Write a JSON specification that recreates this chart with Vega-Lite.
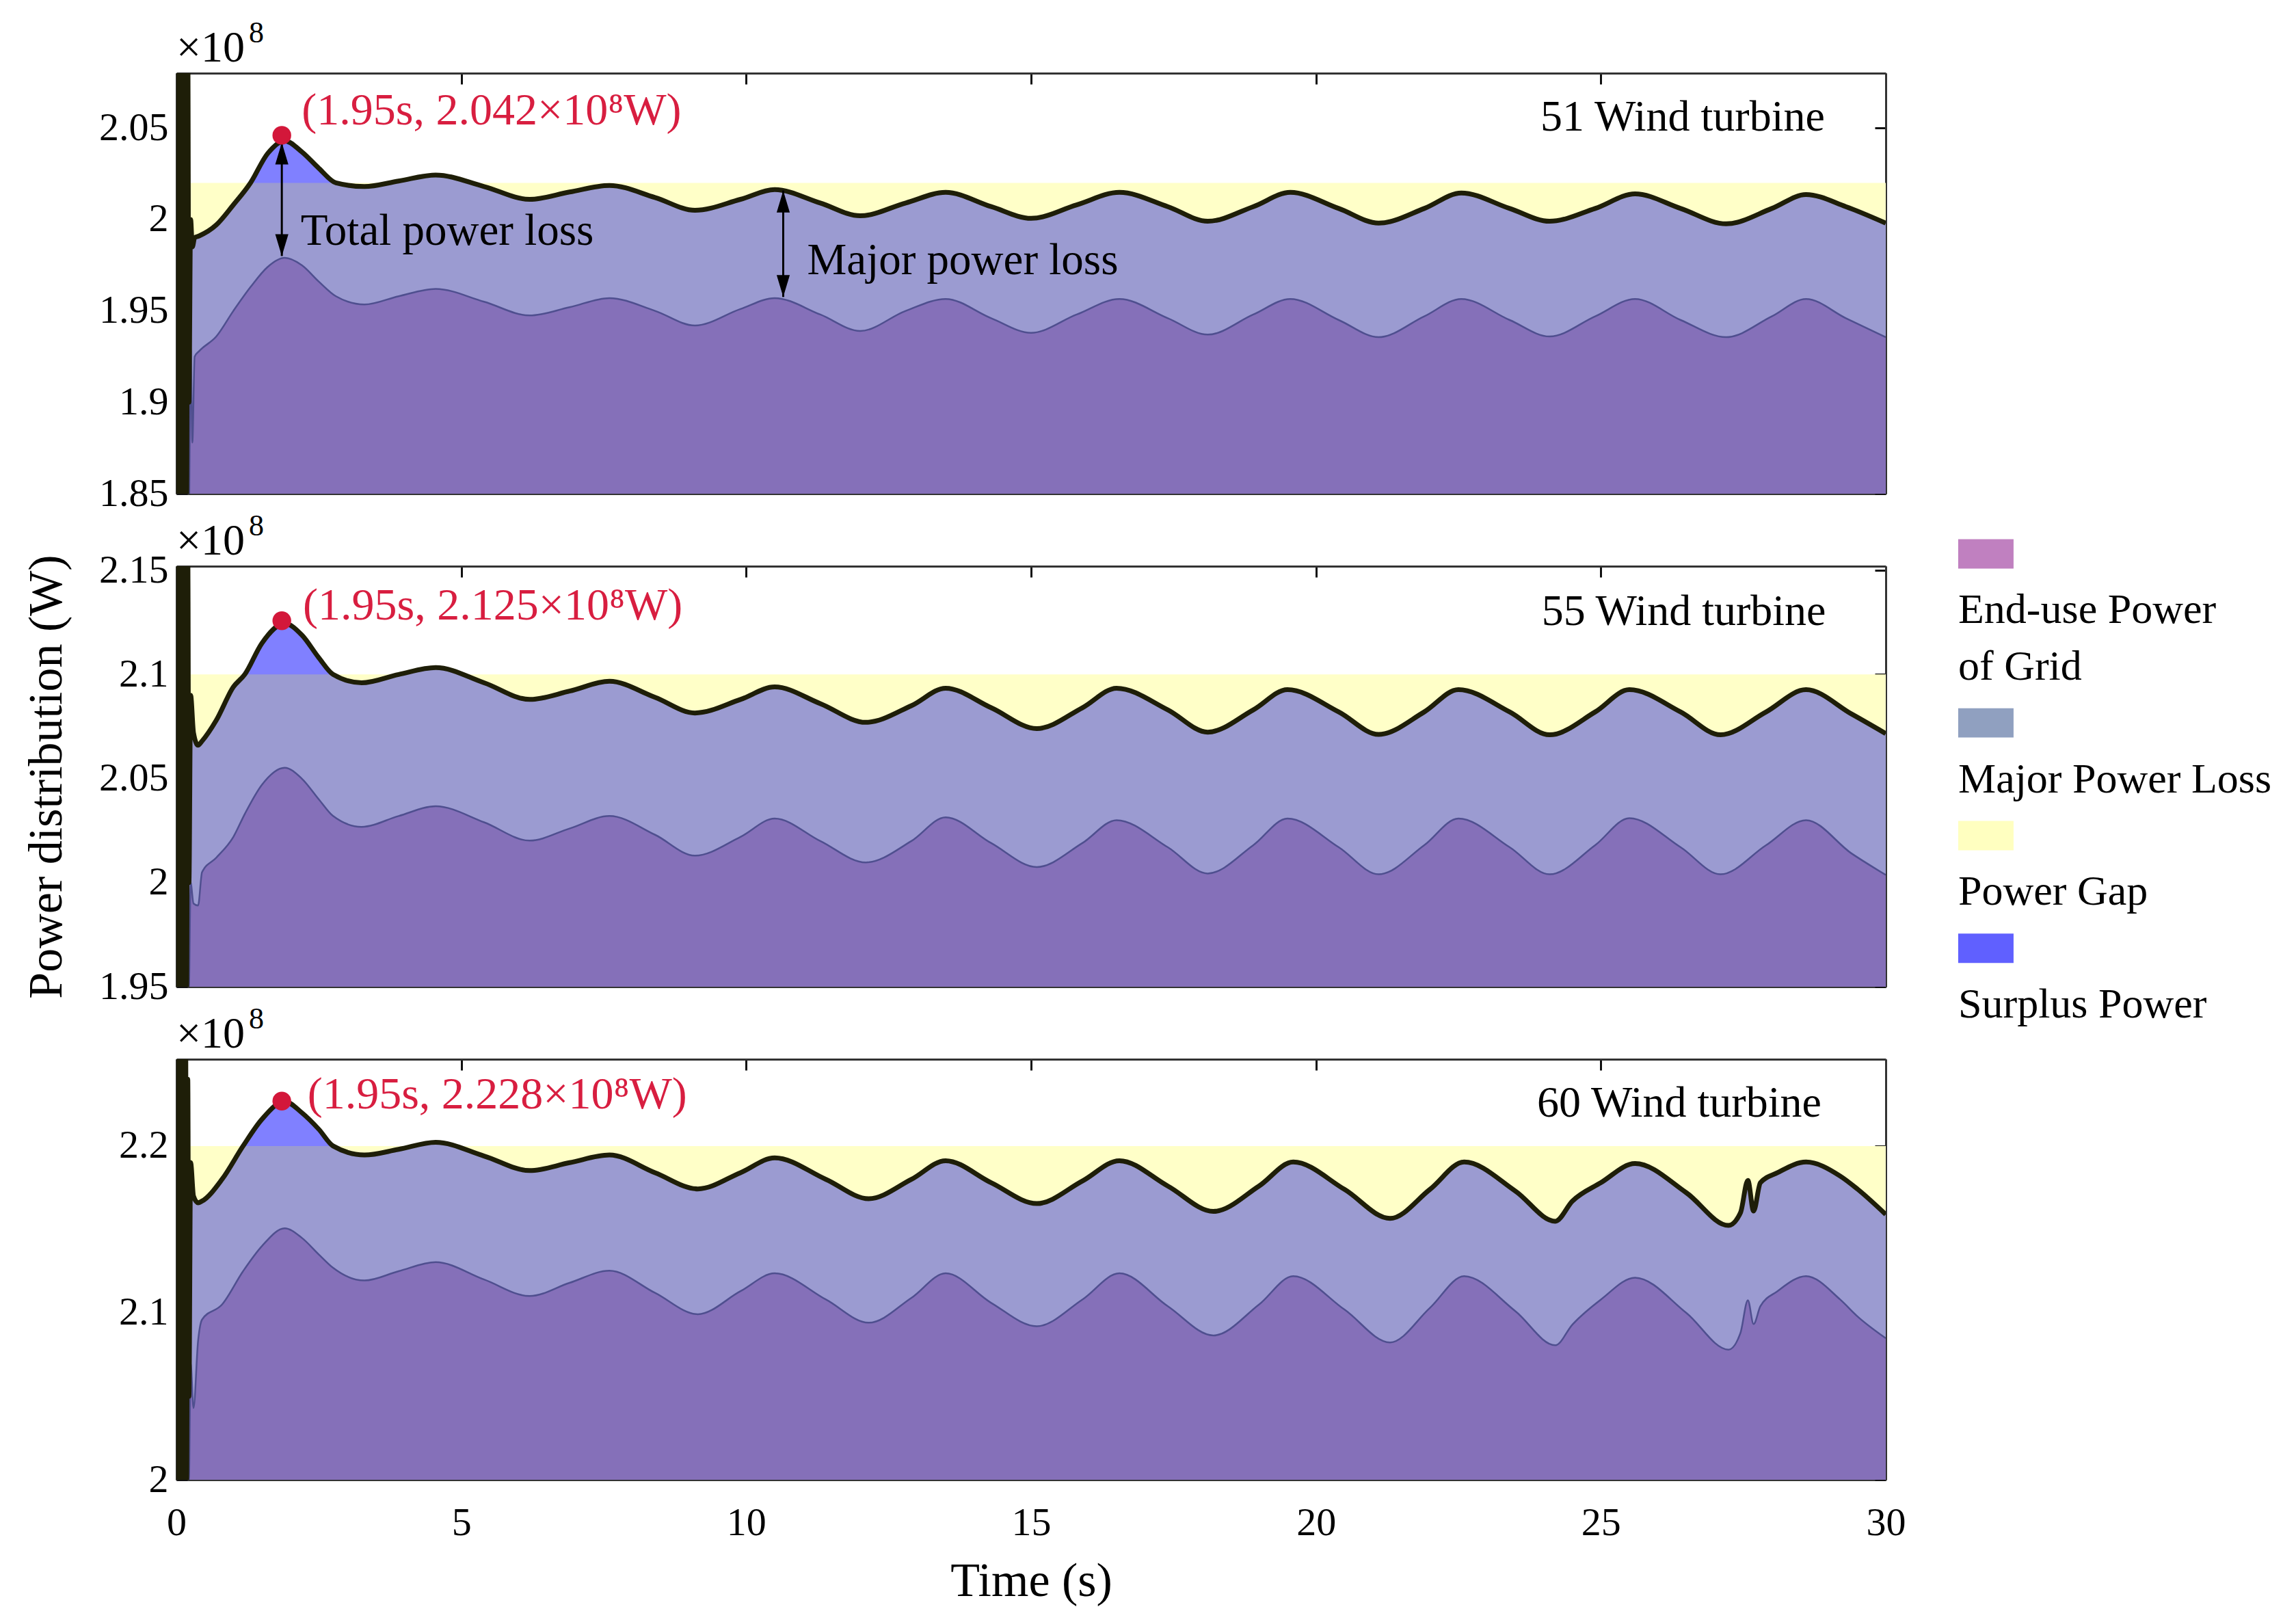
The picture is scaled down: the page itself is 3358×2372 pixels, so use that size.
{
  "$schema": "https://vega.github.io/schema/vega-lite/v6.json",
  "padding": {"left": 33, "top": 27, "right": 5, "bottom": 5},
  "background": "#ffffff",
  "config": {
    "font": "Liberation Serif",
    "view": {"stroke": null},
    "axis": {
      "domainColor": "#333", "domainWidth": 3, "tickColor": "#111", "tickWidth": 3, "tickSize": -16,
      "labelFont": "Liberation Serif", "labelFontSize": 58, "labelColor": "#000", "labelPadding": 28, "labelFlush": false,
      "titleFont": "Liberation Serif", "titleFontSize": 70, "titleFontWeight": "normal", "titleColor": "#000",
      "grid": false, "zindex": 1
    }
  },
  "datasets": {
    "p1": [
      {"t":0,"tot":2.3,"end":2.3},{"t":0.02,"tot":1.8,"end":1.8},{"t":0.04,"tot":2.3,"end":2.3},{"t":0.06,"tot":1.8,"end":1.8},
      {"t":0.08,"tot":2.3,"end":2.25},{"t":0.1,"tot":1.8,"end":1.8},{"t":0.12,"tot":2.25,"end":2.15},{"t":0.14,"tot":1.82,"end":1.8},
      {"t":0.16,"tot":2.2,"end":2.05},{"t":0.18,"tot":1.85,"end":1.8},{"t":0.2,"tot":2.1,"end":1.99},{"t":0.22,"tot":1.9,"end":1.84},
      {"t":0.25,"tot":2.0,"end":1.93},{"t":0.28,"tot":1.985,"end":1.878},{"t":0.32,"tot":1.99,"end":1.925},
      {"t":0.4,"tot":1.991,"end":1.928},{"t":0.7,"tot":1.997,"end":1.936},{"t":1.0,"tot":2.008,"end":1.95},
      {"t":1.3,"tot":2.02,"end":1.963},{"t":1.6,"tot":2.036,"end":1.974},{"t":1.9,"tot":2.043,"end":1.979},
      {"t":2.2,"tot":2.037,"end":1.975},{"t":2.5,"tot":2.028,"end":1.966},{"t":2.8,"tot":2.02,"end":1.958},
      {"t":3.3,"tot":2.018,"end":1.9535},{"t":3.9,"tot":2.021,"end":1.958},{"t":4.55,"tot":2.0243,"end":1.962},
      {"t":5.4,"tot":2.018,"end":1.955},{"t":6.2,"tot":2.011,"end":1.9475},{"t":6.9,"tot":2.015,"end":1.952},
      {"t":7.6,"tot":2.0186,"end":1.957},{"t":8.4,"tot":2.012,"end":1.95},{"t":9.1,"tot":2.005,"end":1.942},
      {"t":9.9,"tot":2.011,"end":1.951},{"t":10.5,"tot":2.0163,"end":1.957},{"t":11.3,"tot":2.009,"end":1.948},
      {"t":12.0,"tot":2.002,"end":1.939},{"t":12.8,"tot":2.009,"end":1.95},{"t":13.5,"tot":2.0148,"end":1.9565},
      {"t":14.3,"tot":2.007,"end":1.946},{"t":15.0,"tot":2.0006,"end":1.938},{"t":15.8,"tot":2.008,"end":1.948},
      {"t":16.55,"tot":2.0148,"end":1.9565},{"t":17.4,"tot":2.007,"end":1.946},{"t":18.1,"tot":1.999,"end":1.937},
      {"t":18.9,"tot":2.007,"end":1.948},{"t":19.55,"tot":2.0148,"end":1.9565},{"t":20.4,"tot":2.006,"end":1.945},
      {"t":21.1,"tot":1.998,"end":1.9356},{"t":21.9,"tot":2.006,"end":1.947},{"t":22.55,"tot":2.0145,"end":1.9565},
      {"t":23.4,"tot":2.006,"end":1.945},{"t":24.1,"tot":1.999,"end":1.936},{"t":24.9,"tot":2.006,"end":1.947},
      {"t":25.6,"tot":2.014,"end":1.9565},{"t":26.4,"tot":2.006,"end":1.945},{"t":27.2,"tot":1.9976,"end":1.9356},
      {"t":28.0,"tot":2.006,"end":1.947},{"t":28.6,"tot":2.0136,"end":1.9565},{"t":29.3,"tot":2.007,"end":1.946},
      {"t":30.0,"tot":1.998,"end":1.9356}
    ],
    "p2": [
      {"t":0,"tot":2.3,"end":2.3},{"t":0.02,"tot":1.9,"end":1.9},{"t":0.04,"tot":2.3,"end":2.3},{"t":0.06,"tot":1.9,"end":1.9},
      {"t":0.08,"tot":2.3,"end":2.25},{"t":0.1,"tot":1.9,"end":1.9},{"t":0.12,"tot":2.28,"end":2.2},{"t":0.14,"tot":1.92,"end":1.9},
      {"t":0.16,"tot":2.25,"end":2.12},{"t":0.18,"tot":1.95,"end":1.92},{"t":0.2,"tot":2.16,"end":2.06},{"t":0.22,"tot":2.0,"end":1.95},
      {"t":0.25,"tot":2.09,"end":2.0},{"t":0.3,"tot":2.072,"end":1.99},{"t":0.38,"tot":2.066,"end":1.989},
      {"t":0.45,"tot":2.068,"end":2.005},{"t":0.7,"tot":2.078,"end":2.012},{"t":1.0,"tot":2.094,"end":2.022},
      {"t":1.2,"tot":2.1,"end":2.033},{"t":1.5,"tot":2.115,"end":2.047},{"t":1.9,"tot":2.1245,"end":2.0552},
      {"t":2.2,"tot":2.119,"end":2.05},{"t":2.5,"tot":2.108,"end":2.04},{"t":2.75,"tot":2.1,"end":2.032},
      {"t":3.25,"tot":2.096,"end":2.0268},{"t":3.9,"tot":2.1,"end":2.032},{"t":4.55,"tot":2.1033,"end":2.0367},
      {"t":5.4,"tot":2.096,"end":2.029},{"t":6.2,"tot":2.088,"end":2.0202},{"t":6.9,"tot":2.092,"end":2.026},
      {"t":7.6,"tot":2.0967,"end":2.032},{"t":8.4,"tot":2.089,"end":2.023},{"t":9.1,"tot":2.0815,"end":2.013},
      {"t":9.9,"tot":2.088,"end":2.022},{"t":10.5,"tot":2.094,"end":2.0308},{"t":11.3,"tot":2.086,"end":2.02},
      {"t":12.1,"tot":2.077,"end":2.0097},{"t":12.9,"tot":2.085,"end":2.02},{"t":13.5,"tot":2.0934,"end":2.0314},
      {"t":14.3,"tot":2.084,"end":2.019},{"t":15.1,"tot":2.074,"end":2.0075},{"t":15.9,"tot":2.084,"end":2.019},
      {"t":16.5,"tot":2.0934,"end":2.03},{"t":17.4,"tot":2.083,"end":2.017},{"t":18.1,"tot":2.0723,"end":2.0044},
      {"t":18.9,"tot":2.083,"end":2.018},{"t":19.5,"tot":2.0927,"end":2.0308},{"t":20.4,"tot":2.082,"end":2.017},
      {"t":21.1,"tot":2.0712,"end":2.004},{"t":21.9,"tot":2.082,"end":2.018},{"t":22.5,"tot":2.0927,"end":2.0308},
      {"t":23.4,"tot":2.082,"end":2.017},{"t":24.1,"tot":2.071,"end":2.004},{"t":24.9,"tot":2.082,"end":2.018},
      {"t":25.5,"tot":2.0927,"end":2.031},{"t":26.4,"tot":2.082,"end":2.017},{"t":27.1,"tot":2.071,"end":2.004},
      {"t":27.9,"tot":2.082,"end":2.018},{"t":28.6,"tot":2.0927,"end":2.03},{"t":29.4,"tot":2.081,"end":2.014},
      {"t":30.0,"tot":2.0716,"end":2.0037}
    ],
    "p3": [
      {"t":0,"tot":2.4,"end":2.4},{"t":0.02,"tot":1.95,"end":1.95},{"t":0.04,"tot":2.4,"end":2.4},{"t":0.06,"tot":1.95,"end":1.95},
      {"t":0.08,"tot":2.4,"end":2.3},{"t":0.1,"tot":1.95,"end":1.95},{"t":0.12,"tot":2.35,"end":2.25},{"t":0.14,"tot":1.97,"end":1.95},
      {"t":0.16,"tot":2.3,"end":2.18},{"t":0.18,"tot":2.0,"end":1.97},{"t":0.2,"tot":2.24,"end":2.1},{"t":0.22,"tot":2.05,"end":2.0},
      {"t":0.25,"tot":2.19,"end":2.07},{"t":0.3,"tot":2.17,"end":2.043},{"t":0.38,"tot":2.166,"end":2.083},
      {"t":0.45,"tot":2.167,"end":2.096},{"t":0.8,"tot":2.18,"end":2.105},{"t":1.17,"tot":2.2,"end":2.125},
      {"t":1.5,"tot":2.216,"end":2.14},{"t":1.9,"tot":2.2267,"end":2.1507},{"t":2.2,"tot":2.22,"end":2.145},
      {"t":2.5,"tot":2.21,"end":2.135},{"t":2.75,"tot":2.2,"end":2.127},{"t":3.3,"tot":2.1946,"end":2.1194},
      {"t":3.9,"tot":2.198,"end":2.125},{"t":4.55,"tot":2.2022,"end":2.1304},{"t":5.4,"tot":2.194,"end":2.12},
      {"t":6.2,"tot":2.1853,"end":2.1101},{"t":6.9,"tot":2.19,"end":2.118},{"t":7.6,"tot":2.1946,"end":2.1253},
      {"t":8.4,"tot":2.184,"end":2.112},{"t":9.15,"tot":2.1743,"end":2.0992},{"t":9.9,"tot":2.184,"end":2.113},
      {"t":10.5,"tot":2.1929,"end":2.1237},{"t":11.4,"tot":2.18,"end":2.108},{"t":12.15,"tot":2.1684,"end":2.0941},
      {"t":12.9,"tot":2.18,"end":2.109},{"t":13.5,"tot":2.1912,"end":2.1237},{"t":14.3,"tot":2.178,"end":2.106},
      {"t":15.1,"tot":2.1655,"end":2.092},{"t":15.9,"tot":2.179,"end":2.108},{"t":16.55,"tot":2.1912,"end":2.1237},
      {"t":17.4,"tot":2.176,"end":2.104},{"t":18.2,"tot":2.1608,"end":2.0865},{"t":19.0,"tot":2.176,"end":2.105},
      {"t":19.6,"tot":2.1904,"end":2.122},{"t":20.5,"tot":2.174,"end":2.102},{"t":21.3,"tot":2.1566,"end":2.0823},
      {"t":22.0,"tot":2.174,"end":2.103},{"t":22.6,"tot":2.1904,"end":2.122},{"t":23.5,"tot":2.173,"end":2.101},
      {"t":24.2,"tot":2.1549,"end":2.0806},{"t":24.5,"tot":2.167,"end":2.093},{"t":25.0,"tot":2.178,"end":2.108},
      {"t":25.6,"tot":2.1895,"end":2.1211},{"t":26.5,"tot":2.172,"end":2.1},{"t":27.24,"tot":2.1524,"end":2.078},
      {"t":27.45,"tot":2.16,"end":2.088},{"t":27.58,"tot":2.1794,"end":2.1076},{"t":27.68,"tot":2.161,"end":2.0933},
      {"t":27.8,"tot":2.178,"end":2.104},{"t":28.1,"tot":2.184,"end":2.113},{"t":28.6,"tot":2.1904,"end":2.122},
      {"t":29.2,"tot":2.182,"end":2.108},{"t":29.5,"tot":2.1743,"end":2.098},{"t":30.0,"tot":2.159,"end":2.0848}
    ],
    "ann": [
      {"p":1,"k":"dot","t":1.85,"v":2.046},
      {"p":1,"k":"red","t":2.2,"v":2.0595,"text":"(1.95s, 2.042×10⁸W)"},
      {"p":1,"k":"turb","t":28.93,"v":2.0558,"text":"51 Wind turbine"},
      {"p":1,"k":"note","t":2.18,"v":1.9936,"text":"Total power loss"},
      {"p":1,"k":"note","t":11.07,"v":1.9775,"text":"Major power loss"},
      {"p":1,"k":"arrow","t":1.85,"top":2.042,"bot":1.98},
      {"p":1,"k":"arrow","t":10.65,"top":2.0158,"bot":1.9576},
      {"p":2,"k":"dot","t":1.85,"v":2.1258},
      {"p":2,"k":"red","t":2.22,"v":2.133,"text":"(1.95s, 2.125×10⁸W)"},
      {"p":2,"k":"turb","t":28.95,"v":2.13,"text":"55 Wind turbine"},
      {"p":3,"k":"dot","t":1.85,"v":2.2269},
      {"p":3,"k":"red","t":2.3,"v":2.2306,"text":"(1.95s, 2.228×10⁸W)"},
      {"p":3,"k":"turb","t":28.87,"v":2.2252,"text":"60 Wind turbine"}
    ],
    "legend": [
      {"slot":0,"k":"sw","item":"End-use Power of Grid"},
      {"slot":1,"k":"lab","text":"End-use Power"},
      {"slot":2,"k":"lab","text":"of Grid"},
      {"slot":3,"k":"sw","item":"Major Power Loss"},
      {"slot":4,"k":"lab","text":"Major Power Loss"},
      {"slot":5,"k":"sw","item":"Power Gap"},
      {"slot":6,"k":"lab","text":"Power Gap"},
      {"slot":7,"k":"sw","item":"Surplus Power"},
      {"slot":8,"k":"lab","text":"Surplus Power"}
    ]
  },
  "spacing": 76,
  "hconcat": [
    {
      "bounds": "flush",
      "spacing": 106,
      "vconcat": [
        {
          "width": 2500, "height": 615,
          "data": {"name": "p1"},
          "layer": [
            {"data": {"values": [{}]}, "mark": {"type": "rect", "color": "#ffffc8"},
             "encoding": {
               "x": {"datum": 0, "type": "quantitative", "scale": {"domain": [0, 30]}, "axis": {"orient": "bottom", "values": [0,5,10,15,20,25,30], "labels": false, "title": null}},
               "x2": {"datum": 30},
               "y": {"datum": 1.85, "type": "quantitative", "scale": {"domain": [1.85, 2.08]}, "axis": {"orient": "left", "values": [1.85,1.9,1.95,2,2.05], "format": "~g", "title": null}},
               "y2": {"datum": 2.02}}},
            {"mark": {"type": "area", "color": "#9b9bd1", "opacity": 1, "interpolate": "monotone", "clip": true},
             "encoding": {"x": {"field": "t", "type": "quantitative", "scale": {"domain": [0, 30]}, "axis": null},
               "y": {"field": "tot", "type": "quantitative", "scale": {"domain": [1.85, 2.08]}, "axis": null}, "y2": {"datum": 1.85}}},
            {"mark": {"type": "area", "color": "#8570b9", "opacity": 1, "interpolate": "monotone", "clip": true},
             "encoding": {"x": {"field": "t", "type": "quantitative", "scale": {"domain": [0, 30]}, "axis": null},
               "y": {"field": "end", "type": "quantitative", "scale": {"domain": [1.85, 2.08]}, "axis": null}, "y2": {"datum": 1.85}}},
            {"transform": [{"filter": "datum.t >= 1.3 && datum.t <= 2.8"}],
             "mark": {"type": "area", "color": "#8080ff", "opacity": 1, "interpolate": "monotone", "clip": true},
             "encoding": {"x": {"field": "t", "type": "quantitative", "scale": {"domain": [0, 30]}, "axis": null},
               "y": {"field": "tot", "type": "quantitative", "scale": {"domain": [1.85, 2.08]}, "axis": null}, "y2": {"datum": 2.02}}},
            {"mark": {"type": "line", "color": "#4f4f8f", "strokeWidth": 2.5, "interpolate": "monotone", "clip": true},
             "encoding": {"x": {"field": "t", "type": "quantitative", "scale": {"domain": [0, 30]}, "axis": null},
               "y": {"field": "end", "type": "quantitative", "scale": {"domain": [1.85, 2.08]}, "axis": null}}},
            {"mark": {"type": "line", "color": "#1e1e08", "strokeWidth": 7, "interpolate": "monotone", "clip": true},
             "encoding": {"x": {"field": "t", "type": "quantitative", "scale": {"domain": [0, 30]}, "axis": null},
               "y": {"field": "tot", "type": "quantitative", "scale": {"domain": [1.85, 2.08]}, "axis": null}}},
            {"data": {"name": "ann"}, "transform": [{"filter": "datum.p == 1 && datum.k == 'arrow'"}],
             "mark": {"type": "rule", "color": "#000", "strokeWidth": 3},
             "encoding": {"x": {"field": "t", "type": "quantitative", "scale": {"domain": [0, 30]}, "axis": null},
               "y": {"field": "top", "type": "quantitative", "scale": {"domain": [1.85, 2.08]}, "axis": null}, "y2": {"field": "bot"}}},
            {"data": {"name": "ann"}, "transform": [{"filter": "datum.p == 1 && datum.k == 'arrow'"}],
             "mark": {"type": "point", "shape": "M0,0L-0.6,2L0.6,2Z", "filled": true, "color": "#000", "opacity": 1, "size": 1024},
             "encoding": {"x": {"field": "t", "type": "quantitative", "scale": {"domain": [0, 30]}, "axis": null},
               "y": {"field": "top", "type": "quantitative", "scale": {"domain": [1.85, 2.08]}, "axis": null}}},
            {"data": {"name": "ann"}, "transform": [{"filter": "datum.p == 1 && datum.k == 'arrow'"}],
             "mark": {"type": "point", "shape": "M0,0L-0.6,-2L0.6,-2Z", "filled": true, "color": "#000", "opacity": 1, "size": 1024},
             "encoding": {"x": {"field": "t", "type": "quantitative", "scale": {"domain": [0, 30]}, "axis": null},
               "y": {"field": "bot", "type": "quantitative", "scale": {"domain": [1.85, 2.08]}, "axis": null}}},
            {"data": {"name": "ann"}, "transform": [{"filter": "datum.p == 1 && datum.k == 'dot'"}],
             "mark": {"type": "circle", "color": "#d3173a", "opacity": 1, "size": 750},
             "encoding": {"x": {"field": "t", "type": "quantitative", "scale": {"domain": [0, 30]}, "axis": null},
               "y": {"field": "v", "type": "quantitative", "scale": {"domain": [1.85, 2.08]}, "axis": null}}},
            {"data": {"name": "ann"}, "transform": [{"filter": "datum.p == 1 && datum.k == 'red'"}],
             "mark": {"type": "text", "align": "left", "baseline": "middle", "color": "#d81e40", "fontSize": 66, "font": "Liberation Serif"},
             "encoding": {"x": {"field": "t", "type": "quantitative", "scale": {"domain": [0, 30]}, "axis": null},
               "y": {"field": "v", "type": "quantitative", "scale": {"domain": [1.85, 2.08]}, "axis": null}, "text": {"field": "text"}}},
            {"data": {"name": "ann"}, "transform": [{"filter": "datum.p == 1 && datum.k == 'turb'"}],
             "mark": {"type": "text", "align": "right", "baseline": "middle", "color": "#000", "fontSize": 64, "font": "Liberation Serif"},
             "encoding": {"x": {"field": "t", "type": "quantitative", "scale": {"domain": [0, 30]}, "axis": null},
               "y": {"field": "v", "type": "quantitative", "scale": {"domain": [1.85, 2.08]}, "axis": null}, "text": {"field": "text"}}},
            {"data": {"name": "ann"}, "transform": [{"filter": "datum.p == 1 && datum.k == 'note'"}],
             "mark": {"type": "text", "align": "left", "baseline": "middle", "color": "#000", "fontSize": 65, "font": "Liberation Serif"},
             "encoding": {"x": {"field": "t", "type": "quantitative", "scale": {"domain": [0, 30]}, "axis": null},
               "y": {"field": "v", "type": "quantitative", "scale": {"domain": [1.85, 2.08]}, "axis": null}, "text": {"field": "text"}}},
            {"data": {"values": [{"s": "×10"}]}, "mark": {"type": "text", "align": "left", "baseline": "alphabetic", "dy": -17, "fontSize": 64, "font": "Liberation Serif", "color": "#000"},
             "encoding": {"x": {"datum": 0, "type": "quantitative", "scale": {"domain": [0, 30]}, "axis": null},
               "y": {"datum": 2.08, "type": "quantitative", "scale": {"domain": [1.85, 2.08]}, "axis": null}, "text": {"field": "s"}}},
            {"data": {"values": [{"s": "8"}]}, "mark": {"type": "text", "align": "left", "baseline": "alphabetic", "dx": 106, "dy": -45, "fontSize": 44, "font": "Liberation Serif", "color": "#000"},
             "encoding": {"x": {"datum": 0, "type": "quantitative", "scale": {"domain": [0, 30]}, "axis": null},
               "y": {"datum": 2.08, "type": "quantitative", "scale": {"domain": [1.85, 2.08]}, "axis": null}, "text": {"field": "s"}}},
            {"data": {"values": [{}]}, "mark": {"type": "point", "opacity": 0},
             "encoding": {
               "x": {"datum": 0, "type": "quantitative", "scale": {"domain": [0, 30]}, "axis": {"orient": "top", "values": [0,5,10,15,20,25,30], "labels": false, "title": null}},
               "y": {"datum": 1.85, "type": "quantitative", "scale": {"domain": [1.85, 2.08]}, "axis": {"orient": "right", "values": [1.85,1.9,1.95,2,2.05], "labels": false, "title": null}}}}
          ],
          "resolve": {"axis": {"x": "independent", "y": "independent"}}
        },
        {
          "width": 2500, "height": 615,
          "data": {"name": "p2"},
          "layer": [
            {"data": {"values": [{}]}, "mark": {"type": "rect", "color": "#ffffc8"},
             "encoding": {
               "x": {"datum": 0, "type": "quantitative", "scale": {"domain": [0, 30]}, "axis": {"orient": "bottom", "values": [0,5,10,15,20,25,30], "labels": false, "title": null}},
               "x2": {"datum": 30},
               "y": {"datum": 1.95, "type": "quantitative", "scale": {"domain": [1.95, 2.152]}, "axis": {"orient": "left", "values": [1.95,2,2.05,2.1,2.15], "format": "~g", "title": "Power distribution (W)", "titlePadding": 40}},
               "y2": {"datum": 2.1}}},
            {"mark": {"type": "area", "color": "#9b9bd1", "opacity": 1, "interpolate": "monotone", "clip": true},
             "encoding": {"x": {"field": "t", "type": "quantitative", "scale": {"domain": [0, 30]}, "axis": null},
               "y": {"field": "tot", "type": "quantitative", "scale": {"domain": [1.95, 2.152]}, "axis": null}, "y2": {"datum": 1.95}}},
            {"mark": {"type": "area", "color": "#8570b9", "opacity": 1, "interpolate": "monotone", "clip": true},
             "encoding": {"x": {"field": "t", "type": "quantitative", "scale": {"domain": [0, 30]}, "axis": null},
               "y": {"field": "end", "type": "quantitative", "scale": {"domain": [1.95, 2.152]}, "axis": null}, "y2": {"datum": 1.95}}},
            {"transform": [{"filter": "datum.t >= 1.2 && datum.t <= 2.75"}],
             "mark": {"type": "area", "color": "#8080ff", "opacity": 1, "interpolate": "monotone", "clip": true},
             "encoding": {"x": {"field": "t", "type": "quantitative", "scale": {"domain": [0, 30]}, "axis": null},
               "y": {"field": "tot", "type": "quantitative", "scale": {"domain": [1.95, 2.152]}, "axis": null}, "y2": {"datum": 2.1}}},
            {"mark": {"type": "line", "color": "#4f4f8f", "strokeWidth": 2.5, "interpolate": "monotone", "clip": true},
             "encoding": {"x": {"field": "t", "type": "quantitative", "scale": {"domain": [0, 30]}, "axis": null},
               "y": {"field": "end", "type": "quantitative", "scale": {"domain": [1.95, 2.152]}, "axis": null}}},
            {"mark": {"type": "line", "color": "#1e1e08", "strokeWidth": 7, "interpolate": "monotone", "clip": true},
             "encoding": {"x": {"field": "t", "type": "quantitative", "scale": {"domain": [0, 30]}, "axis": null},
               "y": {"field": "tot", "type": "quantitative", "scale": {"domain": [1.95, 2.152]}, "axis": null}}},
            {"data": {"name": "ann"}, "transform": [{"filter": "datum.p == 2 && datum.k == 'dot'"}],
             "mark": {"type": "circle", "color": "#d3173a", "opacity": 1, "size": 750},
             "encoding": {"x": {"field": "t", "type": "quantitative", "scale": {"domain": [0, 30]}, "axis": null},
               "y": {"field": "v", "type": "quantitative", "scale": {"domain": [1.95, 2.152]}, "axis": null}}},
            {"data": {"name": "ann"}, "transform": [{"filter": "datum.p == 2 && datum.k == 'red'"}],
             "mark": {"type": "text", "align": "left", "baseline": "middle", "color": "#d81e40", "fontSize": 66, "font": "Liberation Serif"},
             "encoding": {"x": {"field": "t", "type": "quantitative", "scale": {"domain": [0, 30]}, "axis": null},
               "y": {"field": "v", "type": "quantitative", "scale": {"domain": [1.95, 2.152]}, "axis": null}, "text": {"field": "text"}}},
            {"data": {"name": "ann"}, "transform": [{"filter": "datum.p == 2 && datum.k == 'turb'"}],
             "mark": {"type": "text", "align": "right", "baseline": "middle", "color": "#000", "fontSize": 64, "font": "Liberation Serif"},
             "encoding": {"x": {"field": "t", "type": "quantitative", "scale": {"domain": [0, 30]}, "axis": null},
               "y": {"field": "v", "type": "quantitative", "scale": {"domain": [1.95, 2.152]}, "axis": null}, "text": {"field": "text"}}},
            {"data": {"values": [{"s": "×10"}]}, "mark": {"type": "text", "align": "left", "baseline": "alphabetic", "dy": -17, "fontSize": 64, "font": "Liberation Serif", "color": "#000"},
             "encoding": {"x": {"datum": 0, "type": "quantitative", "scale": {"domain": [0, 30]}, "axis": null},
               "y": {"datum": 2.152, "type": "quantitative", "scale": {"domain": [1.95, 2.152]}, "axis": null}, "text": {"field": "s"}}},
            {"data": {"values": [{"s": "8"}]}, "mark": {"type": "text", "align": "left", "baseline": "alphabetic", "dx": 106, "dy": -45, "fontSize": 44, "font": "Liberation Serif", "color": "#000"},
             "encoding": {"x": {"datum": 0, "type": "quantitative", "scale": {"domain": [0, 30]}, "axis": null},
               "y": {"datum": 2.152, "type": "quantitative", "scale": {"domain": [1.95, 2.152]}, "axis": null}, "text": {"field": "s"}}},
            {"data": {"values": [{}]}, "mark": {"type": "point", "opacity": 0},
             "encoding": {
               "x": {"datum": 0, "type": "quantitative", "scale": {"domain": [0, 30]}, "axis": {"orient": "top", "values": [0,5,10,15,20,25,30], "labels": false, "title": null}},
               "y": {"datum": 1.95, "type": "quantitative", "scale": {"domain": [1.95, 2.152]}, "axis": {"orient": "right", "values": [1.95,2,2.05,2.1,2.15], "labels": false, "title": null}}}}
          ],
          "resolve": {"axis": {"x": "independent", "y": "independent"}}
        },
        {
          "width": 2500, "height": 615,
          "data": {"name": "p3"},
          "layer": [
            {"data": {"values": [{}]}, "mark": {"type": "rect", "color": "#ffffc8"},
             "encoding": {
               "x": {"datum": 0, "type": "quantitative", "scale": {"domain": [0, 30]}, "axis": {"orient": "bottom", "values": [0,5,10,15,20,25,30], "title": "Time (s)", "labelPadding": 50, "titlePadding": 22}},
               "x2": {"datum": 30},
               "y": {"datum": 2.0, "type": "quantitative", "scale": {"domain": [2.0, 2.252]}, "axis": {"orient": "left", "values": [2,2.1,2.2], "format": "~g", "title": null}},
               "y2": {"datum": 2.2}}},
            {"mark": {"type": "area", "color": "#9b9bd1", "opacity": 1, "interpolate": "monotone", "clip": true},
             "encoding": {"x": {"field": "t", "type": "quantitative", "scale": {"domain": [0, 30]}, "axis": null},
               "y": {"field": "tot", "type": "quantitative", "scale": {"domain": [2.0, 2.252]}, "axis": null}, "y2": {"datum": 2.0}}},
            {"mark": {"type": "area", "color": "#8570b9", "opacity": 1, "interpolate": "monotone", "clip": true},
             "encoding": {"x": {"field": "t", "type": "quantitative", "scale": {"domain": [0, 30]}, "axis": null},
               "y": {"field": "end", "type": "quantitative", "scale": {"domain": [2.0, 2.252]}, "axis": null}, "y2": {"datum": 2.0}}},
            {"transform": [{"filter": "datum.t >= 1.17 && datum.t <= 2.75"}],
             "mark": {"type": "area", "color": "#8080ff", "opacity": 1, "interpolate": "monotone", "clip": true},
             "encoding": {"x": {"field": "t", "type": "quantitative", "scale": {"domain": [0, 30]}, "axis": null},
               "y": {"field": "tot", "type": "quantitative", "scale": {"domain": [2.0, 2.252]}, "axis": null}, "y2": {"datum": 2.2}}},
            {"mark": {"type": "line", "color": "#4f4f8f", "strokeWidth": 2.5, "interpolate": "monotone", "clip": true},
             "encoding": {"x": {"field": "t", "type": "quantitative", "scale": {"domain": [0, 30]}, "axis": null},
               "y": {"field": "end", "type": "quantitative", "scale": {"domain": [2.0, 2.252]}, "axis": null}}},
            {"mark": {"type": "line", "color": "#1e1e08", "strokeWidth": 7, "interpolate": "monotone", "clip": true},
             "encoding": {"x": {"field": "t", "type": "quantitative", "scale": {"domain": [0, 30]}, "axis": null},
               "y": {"field": "tot", "type": "quantitative", "scale": {"domain": [2.0, 2.252]}, "axis": null}}},
            {"data": {"name": "ann"}, "transform": [{"filter": "datum.p == 3 && datum.k == 'dot'"}],
             "mark": {"type": "circle", "color": "#d3173a", "opacity": 1, "size": 750},
             "encoding": {"x": {"field": "t", "type": "quantitative", "scale": {"domain": [0, 30]}, "axis": null},
               "y": {"field": "v", "type": "quantitative", "scale": {"domain": [2.0, 2.252]}, "axis": null}}},
            {"data": {"name": "ann"}, "transform": [{"filter": "datum.p == 3 && datum.k == 'red'"}],
             "mark": {"type": "text", "align": "left", "baseline": "middle", "color": "#d81e40", "fontSize": 66, "font": "Liberation Serif"},
             "encoding": {"x": {"field": "t", "type": "quantitative", "scale": {"domain": [0, 30]}, "axis": null},
               "y": {"field": "v", "type": "quantitative", "scale": {"domain": [2.0, 2.252]}, "axis": null}, "text": {"field": "text"}}},
            {"data": {"name": "ann"}, "transform": [{"filter": "datum.p == 3 && datum.k == 'turb'"}],
             "mark": {"type": "text", "align": "right", "baseline": "middle", "color": "#000", "fontSize": 64, "font": "Liberation Serif"},
             "encoding": {"x": {"field": "t", "type": "quantitative", "scale": {"domain": [0, 30]}, "axis": null},
               "y": {"field": "v", "type": "quantitative", "scale": {"domain": [2.0, 2.252]}, "axis": null}, "text": {"field": "text"}}},
            {"data": {"values": [{"s": "×10"}]}, "mark": {"type": "text", "align": "left", "baseline": "alphabetic", "dy": -17, "fontSize": 64, "font": "Liberation Serif", "color": "#000"},
             "encoding": {"x": {"datum": 0, "type": "quantitative", "scale": {"domain": [0, 30]}, "axis": null},
               "y": {"datum": 2.252, "type": "quantitative", "scale": {"domain": [2.0, 2.252]}, "axis": null}, "text": {"field": "s"}}},
            {"data": {"values": [{"s": "8"}]}, "mark": {"type": "text", "align": "left", "baseline": "alphabetic", "dx": 106, "dy": -45, "fontSize": 44, "font": "Liberation Serif", "color": "#000"},
             "encoding": {"x": {"datum": 0, "type": "quantitative", "scale": {"domain": [0, 30]}, "axis": null},
               "y": {"datum": 2.252, "type": "quantitative", "scale": {"domain": [2.0, 2.252]}, "axis": null}, "text": {"field": "s"}}},
            {"data": {"values": [{}]}, "mark": {"type": "point", "opacity": 0},
             "encoding": {
               "x": {"datum": 0, "type": "quantitative", "scale": {"domain": [0, 30]}, "axis": {"orient": "top", "values": [0,5,10,15,20,25,30], "labels": false, "title": null}},
               "y": {"datum": 2.0, "type": "quantitative", "scale": {"domain": [2.0, 2.252]}, "axis": {"orient": "right", "values": [2,2.1,2.2], "labels": false, "title": null}}}}
          ],
          "resolve": {"axis": {"x": "independent", "y": "independent"}}
        }
      ]
    },
    {
      "width": 470, "height": 2056,
      "data": {"name": "legend"},
      "layer": [
        {"transform": [{"filter": "datum.k == 'sw'"}],
         "mark": {"type": "point", "shape": "M-1,-0.53L1,-0.53L1,0.53L-1,0.53Z", "filled": true, "opacity": 1, "size": 6561},
         "encoding": {
           "x": {"datum": 0.086, "type": "quantitative", "scale": {"domain": [0, 1]}, "axis": null},
           "y": {"field": "slot", "type": "quantitative", "scale": {"domain": [16.42, -8.53]}, "axis": null},
           "color": {"field": "item", "type": "nominal", "legend": null,
             "scale": {"domain": ["End-use Power of Grid", "Major Power Loss", "Power Gap", "Surplus Power"], "range": ["#c080c0", "#90a0c0", "#ffffc0", "#6060ff"]}}}},
        {"transform": [{"filter": "datum.k == 'lab'"}],
         "mark": {"type": "text", "align": "left", "baseline": "middle", "fontSize": 62, "font": "Liberation Serif", "color": "#000"},
         "encoding": {
           "x": {"datum": 0, "type": "quantitative", "scale": {"domain": [0, 1]}, "axis": null},
           "y": {"field": "slot", "type": "quantitative", "scale": {"domain": [16.42, -8.53]}, "axis": null},
           "text": {"field": "text"}}}
      ]
    }
  ]
}
